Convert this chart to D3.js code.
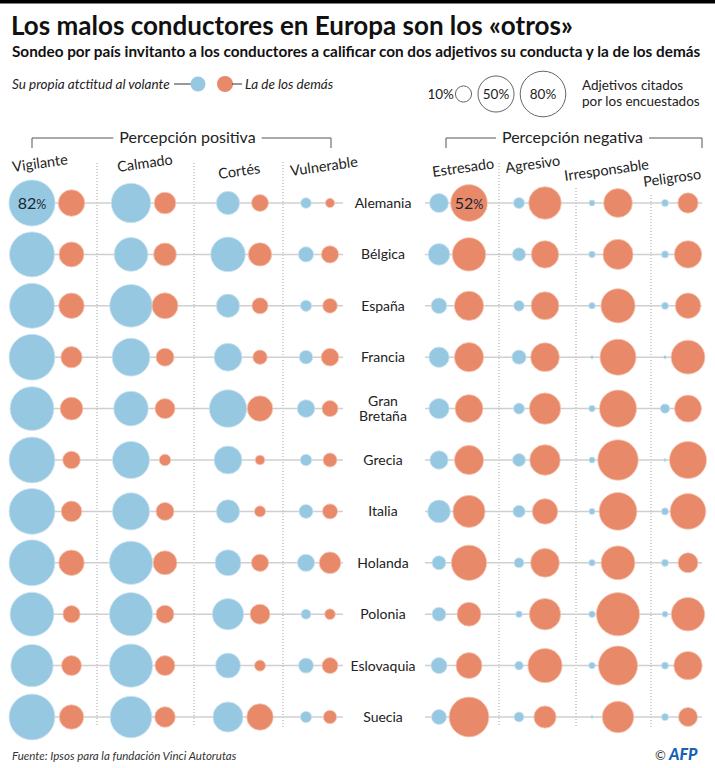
<!DOCTYPE html>
<html>
<head>
<meta charset="utf-8">
<script src="https://cdn.jsdelivr.net/npm/d3@7"></script>
<style>
  body { margin: 0; background: #fff; }
  svg { display: block; font-family: Lato, "Noto Sans", sans-serif; }
</style>
</head>
<body>
<div id="chart"></div>
<script>
// Data (% of respondents citing each adjective)
const countries = ["Alemania", "Bélgica", "España", "Francia", "Gran Bretaña", "Grecia",
  "Italia", "Holanda", "Polonia", "Eslovaquia", "Suecia"];
const adjectives = ["Vigilante", "Calmado", "Cortés", "Vulnerable",
  "Estresado", "Agresivo", "Irresponsable", "Peligroso"];
const groups = ["Percepción positiva", "Percepción negativa"];

// own attitude, one row per country, columns in the adjectives order
const selfValues = [
  [82, 60, 21, 4.4, 14, 4.7, 1.5, 2],
  [78, 44, 46, 9, 18, 6.8, 1.7, 2],
  [78, 70, 21, 4.9, 9.5, 4.4, 1.7, 2],
  [81, 55, 30, 7.2, 16, 7.9, 0.4, 0.4],
  [74, 46, 54, 12, 16, 4.7, 1.7, 3.4],
  [81, 53, 30, 5.2, 13, 6.5, 1.5, 0.3],
  [81, 53, 21, 7.5, 20, 5.8, 1.5, 2],
  [81, 72, 26, 11.5, 7.5, 3.8, 1.7, 2],
  [74, 72, 38, 3.8, 7.5, 1.7, 1.7, 1.4],
  [69, 72, 24, 8.7, 10, 2.9, 1.7, 2],
  [81, 67, 35, 4.9, 8.7, 3.8, 0.3, 2]
];
// attitude of the others
const otherValues = [
  [27, 18, 11, 3.3, 52, 41, 32, 16],
  [24, 20, 21, 11.5, 43, 29, 35, 29],
  [25, 26, 10, 8.3, 33, 30, 45, 25],
  [17.5, 12.5, 8, 12, 33, 32, 50, 44],
  [20, 15.5, 25, 10, 30, 38, 53, 28],
  [12, 5.2, 3.6, 7.5, 33, 36, 63, 53],
  [16.4, 12.5, 4.7, 8.7, 40, 25, 55, 49],
  [25, 22, 11.5, 18, 48, 32, 44, 15.4],
  [11.5, 12.5, 15.4, 4.4, 22, 38, 72, 43],
  [15.4, 15.4, 4.7, 9.8, 26, 45, 59, 31],
  [23, 16.4, 27, 6.8, 61, 19, 38.5, 14]
];
const legendValues = [10, 50, 80];
const labelled = [
  { country: "Alemania", adjective: "Vigilante", who: "self", value: 82 },
  { country: "Alemania", adjective: "Estresado", who: "other", value: 52 }
];

// Layout
const width = 715, height = 768;
const blue = "#97c8e2", orange = "#e8896a";
const blueX = [32, 131, 228, 306, 439, 519, 592, 665];
const orangeX = [71.5, 165, 260, 330, 469, 545, 618, 688];
const headerPos = [[13, 172], [118, 172], [219, 179], [291, 176],
  [433, 177], [506, 173], [565, 181], [644, 187]];
const separators = [[97, 163], [194, 163], [283, 162], [499, 163], [576, 188], [651, 195]];

const svg = d3.select("#chart")
  .append("svg")
  .attr("width", width)
  .attr("height", height)
  .attr("viewBox", [0, 0, width, height]);

// scales
const y = d3.scalePoint().domain(countries).range([203, 717]);
const r = d3.scaleSqrt().domain([0, 100]).range([0, 25.5]);
const xSelf = d3.scaleOrdinal(adjectives, blueX);
const xOther = d3.scaleOrdinal(adjectives, orangeX);

// top bar
svg.append("rect").attr("x", 0).attr("y", 0).attr("width", width).attr("height", 3.5).attr("fill", "#000");

// title + subtitle
svg.append("text")
  .attr("x", 11).attr("y", 35)
  .attr("font-size", 26).attr("font-weight", 700).attr("fill", "#111")
  .text("Los malos conductores en Europa son los «otros»");
svg.append("text")
  .attr("x", 12).attr("y", 57)
  .attr("font-size", 15.3).attr("font-weight", 700).attr("fill", "#111")
  .text("Sondeo por país invitanto a los conductores a calificar con dos adjetivos su conducta y la de los demás");

// color legend
const leg = svg.append("g").attr("font-size", 13.5).attr("font-style", "italic").attr("fill", "#222");
leg.append("text").attr("x", 12).attr("y", 89).text("Su propia atctitud al volante");
leg.append("line").attr("x1", 174).attr("x2", 191).attr("y1", 84).attr("y2", 84).attr("stroke", "#333");
leg.append("circle").attr("cx", 198).attr("cy", 84).attr("r", 7.5).attr("fill", blue);
leg.append("circle").attr("cx", 225).attr("cy", 84).attr("r", 8).attr("fill", orange);
leg.append("line").attr("x1", 232).attr("x2", 242).attr("y1", 84).attr("y2", 84).attr("stroke", "#333");
leg.append("text").attr("x", 245).attr("y", 89).text("La de los demás");

// size legend
const sizeLeg = svg.append("g").attr("font-size", 13.5).attr("fill", "#222");
const sizeCx = [463.5, 496, 543];
sizeLeg.selectAll("circle")
  .data(legendValues)
  .join("circle")
  .attr("cx", (d, i) => sizeCx[i])
  .attr("cy", 94)
  .attr("r", d => r(d))
  .attr("fill", "none")
  .attr("stroke", "#555")
  .attr("stroke-width", 0.9);
sizeLeg.selectAll("text.v")
  .data(legendValues)
  .join("text")
  .attr("class", "v")
  .attr("x", (d, i) => i === 0 ? sizeCx[0] - r(d) - 1.5 : sizeCx[i])
  .attr("y", 99)
  .attr("text-anchor", (d, i) => i === 0 ? "end" : "middle")
  .text(d => d + "%");
sizeLeg.append("text").attr("x", 582).attr("y", 90).text("Adjetivos citados");
sizeLeg.append("text").attr("x", 582).attr("y", 106).text("por los encuestados");

// group brackets
const brackets = [[32, 331, 138, 187.5], [446, 702, 138, 572.5]];
brackets.forEach(([x1, x2, by, cx], i) => {
  const g = svg.append("g");
  const txt = g.append("text")
    .attr("x", cx).attr("y", by + 5)
    .attr("text-anchor", "middle")
    .attr("font-size", 16).attr("fill", "#222")
    .text(groups[i]);
  const w = txt.node().getComputedTextLength();
  g.append("path")
    .attr("d", `M${x1},${by + 10}V${by}H${cx - w / 2 - 6}M${cx + w / 2 + 6},${by}H${x2}V${by + 10}`)
    .attr("fill", "none").attr("stroke", "#555").attr("stroke-width", 1);
});

// column headers
svg.append("g")
  .selectAll("text")
  .data(adjectives)
  .join("text")
  .attr("transform", (d, i) => `translate(${headerPos[i][0]},${headerPos[i][1]}) rotate(-8)`)
  .attr("font-size", 14.5).attr("fill", "#222")
  .text(d => d);

// dotted separators
svg.append("g")
  .selectAll("line")
  .data(separators)
  .join("line")
  .attr("x1", d => d[0]).attr("x2", d => d[0])
  .attr("y1", d => d[1]).attr("y2", 727)
  .attr("stroke", "#888").attr("stroke-width", 0.8)
  .attr("stroke-dasharray", "1,2");

// row lines
const rows = svg.append("g");
countries.forEach(c => {
  rows.append("line")
    .attr("x1", 20).attr("x2", 343).attr("y1", y(c)).attr("y2", y(c))
    .attr("stroke", "#cfcfcf").attr("stroke-width", 1.5);
  rows.append("line")
    .attr("x1", 425).attr("x2", 702).attr("y1", y(c)).attr("y2", y(c))
    .attr("stroke", "#cfcfcf").attr("stroke-width", 1.5);
});

// country labels (two-word names wrap on two lines)
const labels = svg.append("g")
  .attr("font-size", 14).attr("fill", "#222").attr("text-anchor", "middle");
countries.forEach(c => {
  const parts = c.split(" ");
  parts.forEach((p, i) => {
    labels.append("text")
      .attr("x", 383)
      .attr("y", parts.length === 1 ? y(c) + 5 : y(c) - 3 + i * 15.5)
      .text(p);
  });
});

// bubbles
const cells = [];
countries.forEach((c, i) => {
  adjectives.forEach((a, j) => {
    cells.push({ country: c, adjective: a, who: "self", value: selfValues[i][j] });
    cells.push({ country: c, adjective: a, who: "other", value: otherValues[i][j] });
  });
});

svg.append("g")
  .selectAll("circle")
  .data(cells)
  .join("circle")
  .attr("cx", d => d.who === "self" ? xSelf(d.adjective) : xOther(d.adjective))
  .attr("cy", d => y(d.country))
  .attr("r", d => r(d.value))
  .attr("fill", d => d.who === "self" ? blue : orange)
  .attr("stroke", d => d.who === "self" ? "#cfe5f1" : "#f6c8b5")
  .attr("stroke-width", 0.8);

// value labels inside two bubbles
const vl = svg.append("g")
  .selectAll("text")
  .data(labelled)
  .join("text")
  .attr("x", d => d.who === "self" ? xSelf(d.adjective) : xOther(d.adjective))
  .attr("y", d => y(d.country) + 6)
  .attr("text-anchor", "middle")
  .attr("fill", "#1b2633")
  .attr("font-size", 16);
vl.append("tspan").text(d => d.value);
vl.append("tspan").attr("font-size", 12.5).text("%");

// footer
svg.append("text")
  .attr("x", 12).attr("y", 760)
  .attr("font-size", 11.5).attr("font-style", "italic").attr("fill", "#333")
  .text("Fuente: Ipsos para la fundación Vinci Autorutas");
svg.append("text")
  .attr("x", 655).attr("y", 760)
  .attr("font-size", 13).attr("fill", "#333")
  .text("©");
svg.append("text")
  .attr("x", 669).attr("y", 760)
  .attr("font-size", 16).attr("font-weight", 900).attr("font-style", "italic")
  .attr("fill", "#1560b8")
  .text("AFP");
</script>
</body>
</html>
